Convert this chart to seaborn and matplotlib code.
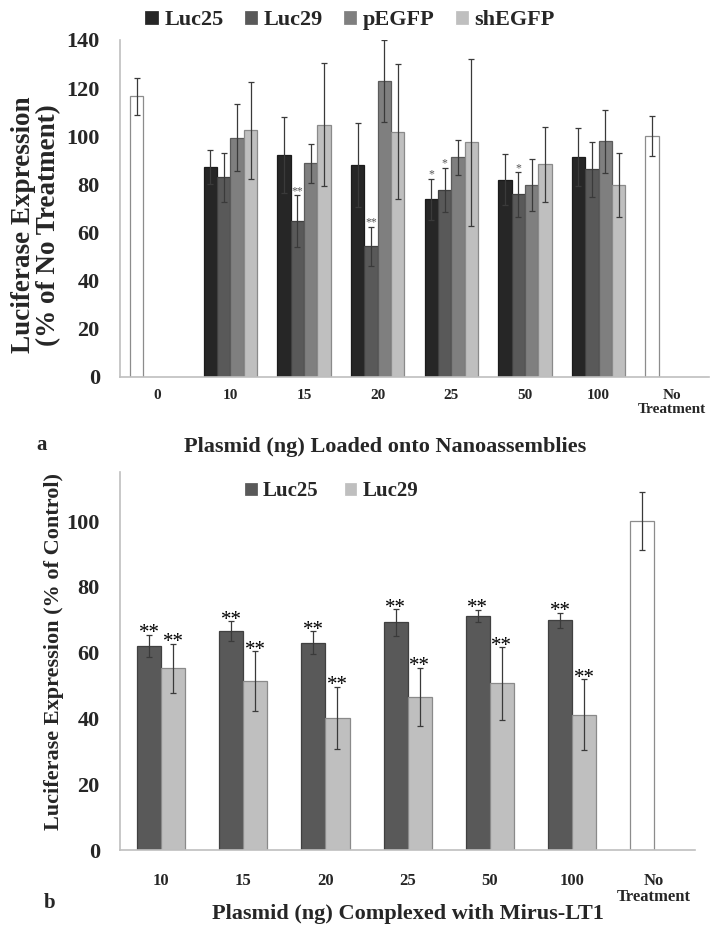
import numpy as np
import pandas as pd
import matplotlib
matplotlib.use("Agg")
import matplotlib.pyplot as plt
from matplotlib.container import BarContainer
import seaborn as sns

# ---------------- Panel a data ----------------
cats_a = ["0", "10", "15", "20", "25", "50", "100", "No\nTreatment"]
treated_a = ["10", "15", "20", "25", "50", "100"]
series_a = ["Luc25", "Luc29", "pEGFP", "shEGFP"]
luc25_a = [87.1, 92.2, 88.0, 73.7, 81.9, 91.3]
luc25_a_err = [7.0, 15.7, 17.6, 8.5, 10.7, 12.0]
luc29_a = [83.0, 64.7, 54.3, 77.5, 75.8, 86.2]
luc29_a_err = [10.2, 10.7, 8.1, 9.2, 9.2, 11.5]
pegfp_a = [99.4, 88.7, 122.8, 91.2, 79.8, 97.8]
pegfp_a_err = [14.0, 8.0, 17.0, 7.3, 10.8, 13.2]
shegfp_a = [102.4, 104.8, 101.9, 97.5, 88.3, 79.7]
shegfp_a_err = [20.0, 25.6, 28.0, 34.7, 15.5, 13.5]
control_a_cats = ["0", "No\nTreatment"]
control_a = [116.6, 100.0]
control_a_err = [7.8, 8.3]
stars_a = {("15", "Luc29"): "**", ("20", "Luc29"): "**", ("25", "Luc25"): "*",
           ("25", "Luc29"): "*", ("50", "Luc29"): "*"}
colors_a = ["#262626", "#595959", "#7f7f7f", "#bfbfbf"]

# ---------------- Panel b data ----------------
cats_b = ["10", "15", "20", "25", "50", "100", "No\nTreatment"]
treated_b = ["10", "15", "20", "25", "50", "100"]
series_b = ["Luc25", "Luc29"]
luc25_b = [62.1, 66.6, 63.1, 69.2, 71.1, 69.9]
luc25_b_err = [3.4, 3.0, 3.4, 4.0, 1.9, 2.3]
luc29_b = [55.3, 51.4, 40.2, 46.7, 50.7, 41.2]
luc29_b_err = [7.5, 9.1, 9.5, 8.8, 11.0, 10.8]
control_b_cats = ["No\nTreatment"]
control_b = [100.0]
control_b_err = [8.7]
stars_b = {(c, s): "**" for c in treated_b for s in series_b}
colors_b = ["#595959", "#bfbfbf"]

# ---------------- tables ----------------
def long_table(cats, names, vals, errs):
    rows = []
    for name, v, e in zip(names, vals, errs):
        for c, vv, ee in zip(cats, v, e):
            rows.append({"dose": c, "series": name, "value": vv, "err": ee})
    return pd.DataFrame(rows)

df_a = long_table(treated_a, series_a, [luc25_a, luc29_a, pegfp_a, shegfp_a],
                  [luc25_a_err, luc29_a_err, pegfp_a_err, shegfp_a_err])
dfc_a = long_table(control_a_cats, ["Control"], [control_a], [control_a_err])
df_b = long_table(treated_b, series_b, [luc25_b, luc29_b], [luc25_b_err, luc29_b_err])
dfc_b = long_table(control_b_cats, ["Control"], [control_b], [control_b_err])

sns.set_theme(style="white")
plt.rcParams["font.family"] = ["Liberation Serif", "DejaVu Serif"]
plt.rcParams["font.weight"] = "bold"

W, H = 711, 926
fig = plt.figure(figsize=(W / 100, H / 100), dpi=100)

SPINE = "#bfbfbf"


def draw_panel(ax, df, dfc, cats, series, colors, width, stars, star_size, star_color, star_off):
    n = len(series)
    pal = dict(zip(series, colors))
    sns.barplot(data=df, x="dose", y="value", hue="series", order=cats, hue_order=series,
                palette=pal, width=width, saturation=1, errorbar=None, ax=ax,
                dodge=True, linewidth=0.9)
    # control bars occupy the first dodge slot
    ctrl_levels = ["Control"] + ["_slot%d" % i for i in range(1, n)]
    sns.barplot(data=dfc, x="dose", y="value", hue="series", order=cats,
                hue_order=ctrl_levels, palette={k: "white" for k in ctrl_levels},
                width=width, saturation=1, errorbar=None, ax=ax, legend=False,
                dodge=True, linewidth=0.9)
    err = {}
    for d in (df, dfc):
        for _, r in d.iterrows():
            slot = 0 if r["series"] == "Control" else series.index(r["series"])
            err[(r["dose"], slot)] = (r["err"], r["series"])
    bar_conts = [c for c in ax.containers if isinstance(c, BarContainer)]
    for cont in bar_conts:
        for p in cont.patches:
            h = p.get_height()
            if not np.isfinite(h) or h == 0:
                continue
            fc = np.array(p.get_facecolor()[:3])
            if np.all(fc > 0.98):
                p.set_edgecolor("#8c8c8c")
            else:
                p.set_edgecolor(tuple(fc * 0.72))
            xc = p.get_x() + p.get_width() / 2
            ci = int(round(xc))
            slot = int(round((xc - ci) / p.get_width() + (n - 1) / 2))
            key = (cats[ci], slot)
            if key not in err:
                continue
            e, sname = err[key]
            ax.errorbar(xc, h, yerr=e, fmt="none", ecolor="#3a3a3a", elinewidth=0.9,
                        capsize=2.2, capthick=0.9, zorder=5)
            if (cats[ci], sname) in stars:
                ax.annotate(stars[(cats[ci], sname)], (xc, h + e), xytext=(0, star_off),
                            textcoords="offset points", ha="center", va="baseline",
                            fontsize=star_size, color=star_color, fontweight="normal")
    ax.set_xlim(-0.5, len(cats) - 0.5)
    for s in ["top", "right"]:
        ax.spines[s].set_visible(False)
    for s in ["left", "bottom"]:
        ax.spines[s].set_color(SPINE)
        ax.spines[s].set_linewidth(1.2)
    ax.set_xlabel("")


# ---------------- panel a ----------------
ax1 = fig.add_axes([120 / W, 1 - 376.7 / H, 589 / W, 336.7 / H])
draw_panel(ax1, df_a, dfc_a, cats_a, series_a, colors_a, 0.727, stars_a, 8.5, "#555555", 1)
ax1.set_ylim(0, 140)
ax1.set_yticks(range(0, 141, 20))
ax1.tick_params(axis="y", length=5, width=1.2, color=SPINE, pad=9.5, labelsize=16)
ax1.tick_params(axis="x", length=0, pad=9, labelsize=11)
for t in ax1.get_xticklabels():
    t.set_linespacing(1.05)
ax1.set_ylabel("Luciferase Expression\n(% of No Treatment)", fontsize=19.5,
               fontweight="bold", linespacing=1.0)
ax1.yaxis.set_label_coords(-0.100, 0.45)
sns.move_legend(ax1, "center", bbox_to_anchor=(0.39, 1.059), ncol=4, frameon=False,
                title=None, fontsize=16, handlelength=0.65, handleheight=0.65,
                handletextpad=0.25, columnspacing=0.9)

# ---------------- panel b ----------------
ax2 = fig.add_axes([120 / W, 1 - 850.3 / H, 575.3 / W, 378.6 / H])
draw_panel(ax2, df_b, dfc_b, cats_b, series_b, colors_b, 0.585, stars_b, 15, "black", -2.5)
ax2.set_ylim(0, 115)
ax2.set_yticks(range(0, 101, 20))
ax2.tick_params(axis="y", length=5, width=1.2, color=SPINE, pad=9.5, labelsize=16)
ax2.tick_params(axis="x", length=0, pad=16, labelsize=12)
for t in ax2.get_xticklabels():
    t.set_linespacing(1.05)
ax2.set_ylabel("Luciferase Expression (% of Control)", fontsize=16, fontweight="bold")
ax2.yaxis.set_label_coords(-0.097, 0.526)
sns.move_legend(ax2, "center", bbox_to_anchor=(0.367, 0.949), ncol=2, frameon=False,
                title=None, fontsize=15, handlelength=0.65, handleheight=0.65,
                handletextpad=0.25, columnspacing=1.2)

# ---------------- captions ----------------
fig.text(385 / W, 1 - 447 / H, "Plasmid (ng) Loaded onto Nanoassemblies", ha="center",
         va="center", fontsize=16, fontweight="bold")
fig.text(408 / W, 1 - 914 / H, "Plasmid (ng) Complexed with Mirus-LT1", ha="center",
         va="center", fontsize=16, fontweight="bold")
fig.text(42 / W, 1 - 445 / H, "a", ha="center", va="center", fontsize=15, fontweight="bold")
fig.text(50 / W, 1 - 903 / H, "b", ha="center", va="center", fontsize=15, fontweight="bold")

fig.savefig("out.png", dpi=100)
